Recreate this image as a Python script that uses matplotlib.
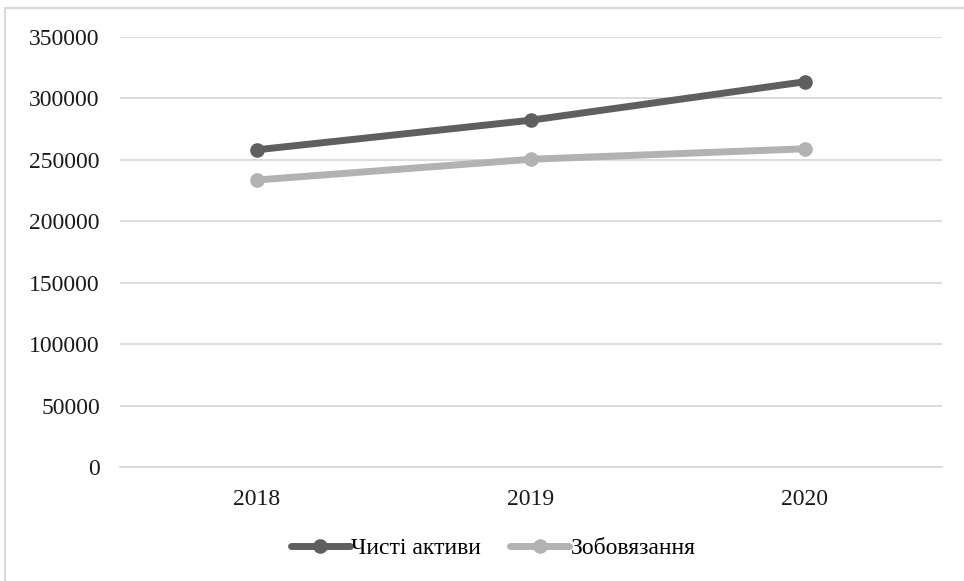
import matplotlib.pyplot as plt
from matplotlib.patches import Rectangle
from matplotlib.font_manager import FontProperties

FONT = "Liberation Serif"
plt.rcParams['font.family'] = [FONT, 'DejaVu Serif']

years = ["2018", "2019", "2020"]
chysti_aktyvy = [258200, 282300, 313600]
zobovyazannya = [233600, 250500, 259000]
y_ticks = [0, 50000, 100000, 150000, 200000, 250000, 300000, 350000]

fig = plt.figure(figsize=(9.64, 5.81), dpi=100)
ax = fig.add_axes([120 / 964, 1 - 467 / 581, (942 - 120) / 964, (467 - 37) / 581])

# Рамка навколо діаграми
fig.patches.append(Rectangle((5 / 964, -0.05), 1.1, 1 - 8 / 581 + 0.05,
                             transform=fig.transFigure, fill=False,
                             edgecolor="#d9d9d9", linewidth=1.5))

x = range(len(years))
ax.plot(x, chysti_aktyvy, color="#5f5f5f", linewidth=5, marker="o",
        markersize=9.5, label="Чисті активи", solid_capstyle="round")
ax.plot(x, zobovyazannya, color="#b2b2b2", linewidth=5, marker="o",
        markersize=9.5, label="Зобовязання", solid_capstyle="round")

ax.set_xlim(-0.5, 2.5)
ax.set_ylim(0, 350000)
ax.set_xticks(list(x))
ax.set_xticklabels(years, family=FONT, fontsize=17)
ax.set_yticks(y_ticks)
ax.set_yticklabels([str(v) for v in y_ticks], family=FONT, fontsize=17)
ax.tick_params(axis="both", length=0, colors="#1a1a1a")
ax.tick_params(axis="y", pad=14.5)
ax.tick_params(axis="x", pad=16)

ax.grid(axis="y", color="#d9d9d9", linewidth=1.3)
ax.set_axisbelow(True)
for s in ["top", "right", "left"]:
    ax.spines[s].set_visible(False)
ax.spines["bottom"].set_color("#d9d9d9")
ax.spines["bottom"].set_linewidth(1.3)

ax.legend(loc="center", bbox_to_anchor=(493 / 964, (581 - 548) / 581),
          bbox_transform=fig.transFigure, ncol=2, frameon=False,
          prop=FontProperties(family=FONT, size=17),
          handlelength=2.5, handletextpad=0.05, columnspacing=1.25,
          borderpad=0, borderaxespad=0)

fig.savefig("out.png", dpi=100)
